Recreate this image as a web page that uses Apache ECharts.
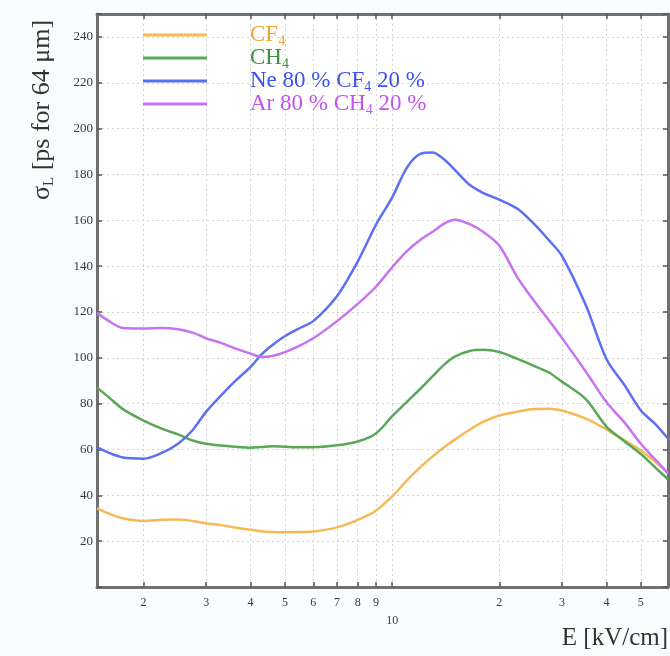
<!DOCTYPE html>
<html>
<head>
<meta charset="utf-8">
<script src="https://cdn.jsdelivr.net/npm/echarts@6/dist/echarts.min.js"></script>
<style>
  html, body { margin: 0; padding: 0; background: #f7fcfd; }
  #chart { width: 670px; height: 656px; }
</style>
</head>
<body>
<div id="chart"></div>
<script>
// E field [kV/cm], shared by all curves
const fieldE = [1.48, 1.6, 1.75, 2, 2.25, 2.5, 2.75, 3, 3.3, 3.6, 4, 4.3, 4.6, 5, 5.5, 6, 7, 8, 9, 10,
  11, 12, 13, 14, 15, 16.5, 18, 20, 22.5, 25, 27.5, 30, 35, 40, 45, 50, 55, 59.6];

// sigma_L [ps for 64 um]
const cf4 = [34.3, 32, 30, 28.8, 29.3, 29.5, 28.8, 27.8, 27, 26, 25, 24.3, 24, 23.9, 24, 24.2, 26, 29.3, 33.3, 39.5,
  46.5, 52.3, 57, 61, 64.3, 68.6, 72, 74.8, 76.5, 77.7, 77.8, 77, 73.5, 68.8, 64, 59.6, 54.5, 49.6];
const ch4 = [87, 82.7, 77.6, 72.6, 69.1, 66.6, 63.9, 62.5, 61.7, 61.2, 60.8, 61.1, 61.4, 61.2, 61, 61, 61.8, 63.5, 67, 74.5,
  80.8, 86.5, 92, 97, 100.5, 103, 103.5, 102.5, 99.5, 96.5, 93.7, 89.6, 82, 70, 63.5, 58, 52, 47];
const neCf4 = [61, 58.5, 56.5, 56, 58.5, 62.5, 68.5, 76.5, 83.5, 89.5, 96, 101.6, 105.5, 109.5, 113, 116, 127, 142, 158, 170,
  183, 189, 189.6, 186.5, 182, 175.5, 172, 169, 165, 158.5, 151.5, 144.5, 123, 99.5, 88, 77, 71, 64.8];
const arCh4 = [119.6, 116, 113, 112.8, 113, 112.5, 111, 108.5, 106.5, 104.2, 101.8, 100.4, 100.8, 102.5, 105.3, 108.5, 116, 123.5, 131, 139.5,
  146.5, 151.5, 155, 158.5, 160.2, 158.3, 155, 149, 135, 125, 116.6, 108.7, 94, 80.7, 71.7, 62.5, 55.5, 49.6];

const seriesNames = ['CF4', 'CH4', 'Ne 80 % CF4 20 %', 'Ar 80 % CH4 20 %'];
const seriesData = [cf4, ch4, neCf4, arCh4];
const lineColors = ['#f7b955', '#58a858', '#5b70f2', '#c872f2'];
const textColors = ['#f2a431', '#3f8f3f', '#3b52ee', '#c253f0'];

const xTicks = [2, 3, 4, 5, 6, 7, 8, 9, 10, 20, 30, 40, 50];
const yTitle = '{a|σ}{s|L}{a| [ps for 64 μm]}';
const xTitle = 'E [kV/cm]';

const serif = '"Liberation Serif", "DejaVu Serif", serif';

const chart = echarts.init(document.getElementById('chart'));

const pairs = (vals) => fieldE.map((e, i) => [e, vals[i]]);

const xAxisBase = {
  type: 'log',
  logBase: 10,
  min: 1.48,
  max: 59.6,
  axisLine: { show: true, onZero: false, lineStyle: { color: '#707070', width: 3 } },
  axisTick: { show: true, inside: true, length: 5, customValues: xTicks, lineStyle: { color: '#555', width: 1.5 } },
  splitLine: { show: false },
  minorTick: { show: false },
  minorSplitLine: { show: false }
};

chart.setOption({
  backgroundColor: '#f7fcfd',
  animation: false,
  grid: {
    left: 97, right: 2, top: 14, bottom: 69,
    show: true, backgroundColor: '#ffffff', borderWidth: 0
  },
  legend: {
    orient: 'vertical',
    left: 143,
    top: 22,
    padding: 0,
    itemGap: -3,
    itemWidth: 64,
    itemHeight: 3,
    icon: 'rect',
    selectedMode: false,
    data: seriesNames.map((n, i) => ({ name: n, textStyle: { color: textColors[i] } })),
    formatter: (name) => name.replace(/(C[FH])4/g, '$1{s|4}'),
    textStyle: {
      fontFamily: serif,
      fontSize: 23,
      lineHeight: 26,
      padding: [0, 0, 0, 38],
      rich: {
        s: { fontFamily: serif, fontSize: 14, lineHeight: 4, verticalAlign: 'bottom' }
      }
    }
  },
  xAxis: [
    Object.assign({}, xAxisBase, {
      position: 'bottom',
      axisLabel: {
        show: true,
        customValues: xTicks,
        margin: 7,
        fontFamily: serif,
        fontSize: 12,
        lineHeight: 18,
        color: '#3a3a3a',
        formatter: (v) => v === 10 ? '\n10' : String(v > 10 ? v / 10 : v)
      },
      splitLine: { show: true, lineStyle: { color: '#d4d4d4', type: [2, 3], width: 1 } }
    }),
    Object.assign({}, xAxisBase, {
      position: 'top',
      axisLabel: { show: false }
    })
  ],
  yAxis: [
    {
      type: 'value',
      min: 0,
      max: 250,
      interval: 20,
      position: 'left',
      axisLine: { show: true, lineStyle: { color: '#707070', width: 3 } },
      axisTick: { show: true, inside: true, length: 5, lineStyle: { color: '#555', width: 1.5 } },
      axisLabel: {
        margin: 4,
        fontFamily: serif,
        fontSize: 13,
        color: '#3a3a3a',
        formatter: (v) => (v === 0 || v === 250) ? '' : String(v)
      },
      splitLine: { show: true, lineStyle: { color: '#d4d4d4', type: [2, 3], width: 1 } }
    },
    {
      type: 'value',
      min: 0,
      max: 250,
      interval: 20,
      position: 'right',
      axisLine: { show: true, lineStyle: { color: '#707070', width: 3 } },
      axisTick: { show: true, inside: true, length: 5, lineStyle: { color: '#555', width: 1.5 } },
      axisLabel: { show: false },
      splitLine: { show: false }
    }
  ],
  series: seriesNames.map((n, i) => ({
    name: n,
    type: 'line',
    xAxisIndex: 0,
    yAxisIndex: 0,
    data: pairs(seriesData[i]),
    smooth: 0.3,
    symbol: 'none',
    lineStyle: { color: lineColors[i], width: 2.5 },
    itemStyle: { color: lineColors[i] }
  })),
  graphic: [
    {
      type: 'text',
      x: 42,
      y: 110,
      rotation: Math.PI / 2,
      style: {
        text: yTitle,
        align: 'center',
        verticalAlign: 'middle',
        fill: '#333',
        rich: {
          a: { fontFamily: serif, fontSize: 26, lineHeight: 30, fill: '#333' },
          s: { fontFamily: serif, fontSize: 15, lineHeight: 6, verticalAlign: 'bottom', fill: '#333' }
        }
      }
    },
    {
      type: 'text',
      right: 2,
      top: 626,
      style: {
        text: xTitle,
        fontFamily: serif,
        fontSize: 25,
        fill: '#333'
      }
    }
  ]
});
</script>
</body>
</html>
